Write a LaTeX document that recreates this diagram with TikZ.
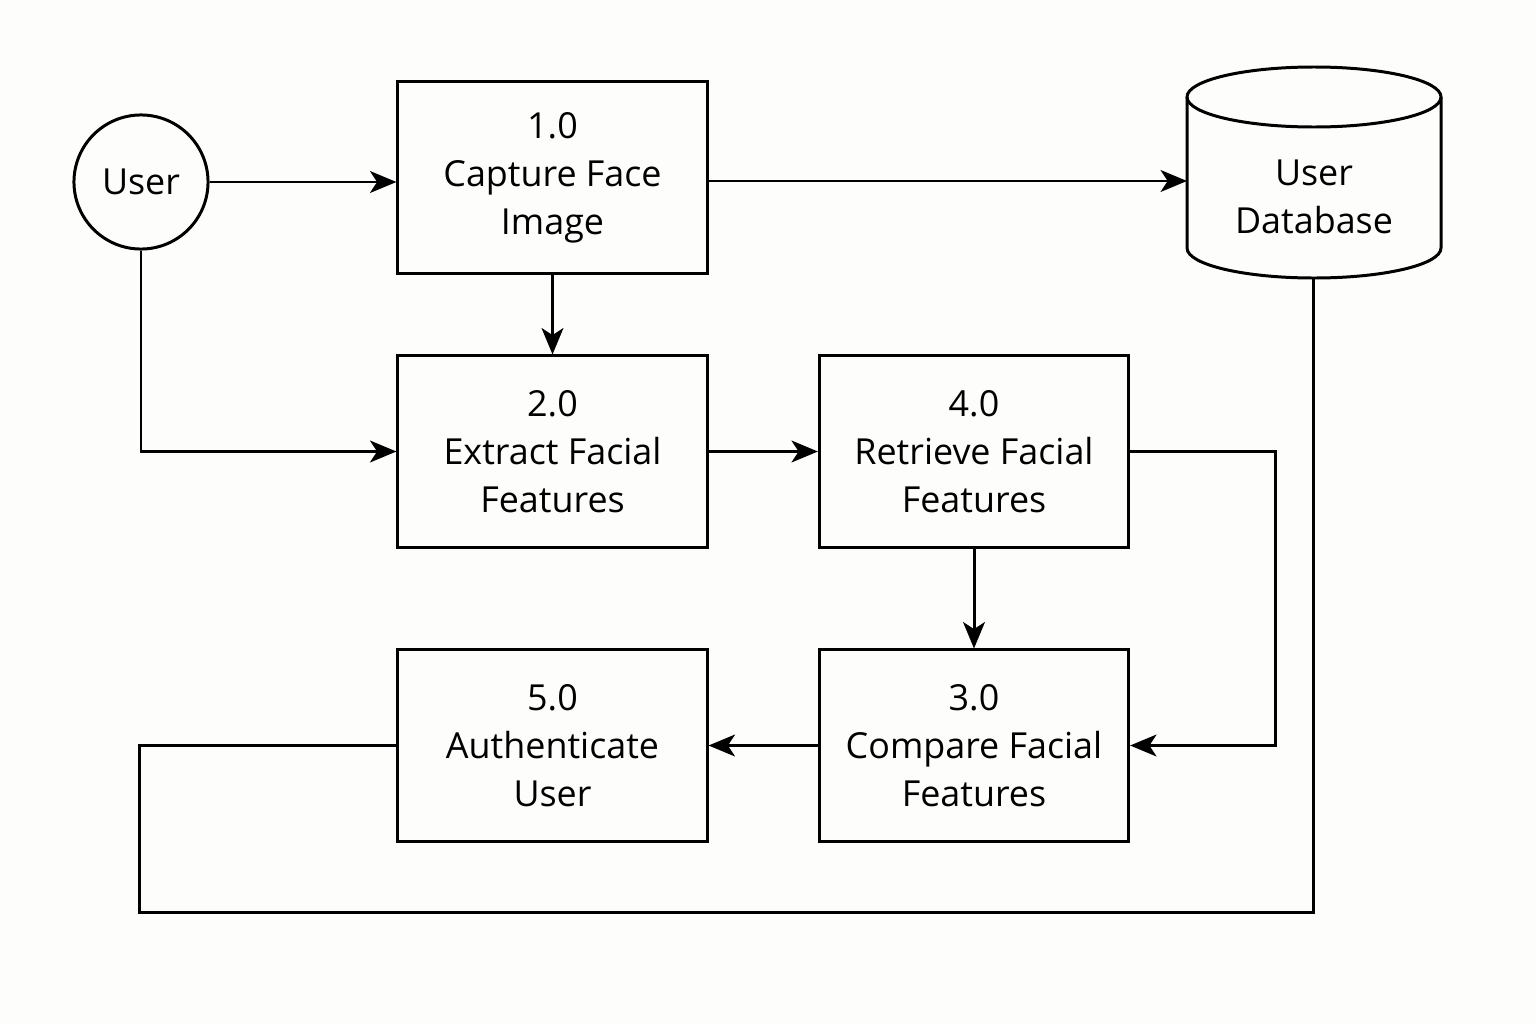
\documentclass[tikz,border=0pt]{standalone}
\usepackage{fontspec}
\setmainfont{Open Sans}
\usetikzlibrary{arrows.meta,calc}
\definecolor{bgc}{RGB}{253,253,251}
\begin{document}
\begin{tikzpicture}[x=0.01cm,y=-0.01cm,
  every node/.style={font=\fontsize{10.2pt}{13.7pt}\selectfont},
  proc/.style={draw,line width=0.85pt,minimum width=3.09cm,minimum height=1.91cm,align=center,inner sep=0pt},
  ent/.style={draw,circle,line width=0.85pt,minimum size=1.34cm,inner sep=0pt},
  arr/.style={line width=0.85pt,-{Stealth[length=7.5pt,width=6.2pt,inset=2pt]}},
  ln/.style={line width=0.85pt}]
\fill[bgc] (0,0) rectangle (1536,1024);
\useasboundingbox (0,0) rectangle (1536,1024);

\node[ent] (user) at (141,182) {User};
\node[proc] (b1) at (552.5,177.5) {1.0\\Capture Face\\Image};
\node[proc] (b2) at (552.5,451.5) {2.0\\Extract Facial\\Features};
\node[proc] (b4) at (974,451.5) {4.0\\Retrieve Facial\\Features};
\node[proc] (b5) at (552.5,745.5) {5.0\\Authenticate\\User};
\node[proc] (b3) at (974,745.5) {3.0\\Compare Facial\\Features};

% database cylinder
\draw[ln] (1187,97) -- (1187,248) arc(180:0:127 and 30) -- (1441,97);
\draw[ln] (1314,97) ellipse (127 and 30);
\node[align=center] (db) at (1314,197) {User\\Database};
\coordinate (dbW) at (1187,181);
\coordinate (dbS) at (1313,278);

\draw[arr] (user.east) -- (user.east -| b1.west);
\draw[arr] (b1.east |- dbW) -- (dbW);
\draw[arr] (b1.south) -- (b2.north);
\draw[arr] (user.south) |- (b2.west);
\draw[arr] (b2.east) -- (b4.west);
\draw[arr] (b4.east) -- ++(145,0) |- (b3.east);
\draw[arr] (b4.south) -- (b3.north);
\draw[arr] (b3.west) -- (b5.east);
\draw[ln] (b5.west) -- ++(-257,0) -- ++(0,166.5) -| (dbS);
\end{tikzpicture}
\end{document}
